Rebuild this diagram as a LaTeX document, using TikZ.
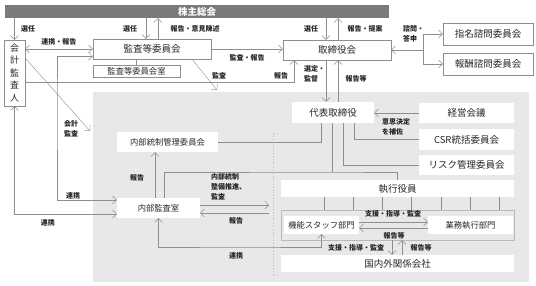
\documentclass[tikz,border=0pt]{standalone}
\usepackage{fontspec}
\newfontfamily\jp{Noto Sans CJK JP}
\usetikzlibrary{arrows.meta,positioning}
\definecolor{wire}{HTML}{8E8E8E}
\definecolor{barfill}{HTML}{7A7A7A}
\definecolor{panelfill}{HTML}{E8E8EA}

\begin{document}
\begin{tikzpicture}[
    x=1pt, y=-1pt,
    every node/.style={font=\jp, text=black!85, inner sep=0pt},
    unit/.style={draw=wire, fill=white, minimum height=20pt, font=\jp\fontsize{9.5}{11}\selectfont},
    plain/.style={fill=white, minimum height=20pt, font=\jp\fontsize{9.5}{11}\selectfont},
    small/.style={plain, font=\jp\fontsize{8.3}{10}\selectfont},
    lbl/.style={font=\jp\bfseries\fontsize{7}{10}\selectfont, align=center},
    flow/.style={draw=wire, -{Straight Barb[length=4pt, width=8pt]}},
    both/.style={draw=wire, {Straight Barb[length=4pt, width=8pt]}-{Straight Barb[length=4pt, width=8pt]}},
    link/.style={draw=wire}
]
\useasboundingbox (0,0) rectangle (536,285);
\fill[panelfill] (93,92) rectangle (529,282);
\draw[gray!50, dotted, thick] (278,133) -| (273,275) -- (278,275);

\node[fill=barfill, minimum width=384pt, minimum height=13pt, text=white, font=\jp\bfseries\fontsize{9.5}{11}\selectfont] (meeting) at (197,11.5) {株主総会};
\node[unit, minimum width=21pt, minimum height=66pt, align=center, font=\jp\fontsize{9}{12.5}\selectfont] (auditor) at (14.5,73) {会\\計\\監\\査\\人};
\node[unit, minimum width=118pt] (committee) at (152,49) {監査等委員会};
\node[unit, minimum width=87pt, minimum height=12pt, font=\jp\fontsize{8.3}{10}\selectfont] (office) at (136.5,71) {監査等委員会室};
\node[unit, minimum width=108pt] (board) at (337,50) {取締役会};
\node[unit, minimum width=90pt, minimum height=22pt] (nomination) at (488,34) {指名諮問委員会};
\node[unit, minimum width=90pt, minimum height=22pt] (remuneration) at (488,64) {報酬諮問委員会};

\node[plain, minimum width=82pt, minimum height=21pt] (ceo) at (333,112.5) {代表取締役};
\node[plain, minimum width=95pt] (mgmt) at (466.5,113) {経営会議};
\node[plain, minimum width=95pt, minimum height=21pt] (csr) at (466.5,139.5) {CSR統括委員会};
\node[plain, minimum width=95pt] (risk) at (466.5,165) {リスク管理委員会};
\node[small, minimum width=101pt] (icc) at (167.5,142) {内部統制管理委員会};
\node[small, minimum width=83pt] (audit) at (158.5,208) {内部監査室};
\node[plain, minimum width=233pt, minimum height=17pt] (officers) at (397.5,188.5) {執行役員};
\node[draw=gray!55, minimum width=233pt, minimum height=30pt] (depts) at (397.5,225) {};
\node[small, minimum width=75pt, minimum height=18pt] (staff) at (321.5,225) {機能スタッフ部門};
\node[small, minimum width=85pt, minimum height=18pt] (business) at (470.5,225) {業務執行部門};
\node[plain, minimum width=233pt, minimum height=17pt] (affiliates) at (397.5,263.5) {国内外関係会社};

\coordinate (acct) at (90,131);
\coordinate (audend) at (217,90);
\coordinate (hub) at (423,50);
\coordinate (split) at (332,172);
\coordinate (exec) at (269,209);
\coordinate (tie) at (240,247);
\coordinate (via) at (57,100);

\draw[flow] (auditor.north |- meeting.south) -- (auditor.north);
\draw[flow] ([xshift=-6pt]committee.north |- meeting.south) -- ([xshift=-6pt]committee.north);
\draw[flow] ([xshift=6pt]committee.north) -- ([xshift=6pt]committee.north |- meeting.south);
\draw[flow] ([xshift=-11pt]board.north |- meeting.south) -- ([xshift=-11pt]board.north);
\draw[flow] ([xshift=1pt]board.north) -- ([xshift=1pt]board.north |- meeting.south);
\draw[link] (committee.south -| office.north) -- (office.north);
\draw[both] (auditor.east |- committee.west) -- (committee.west);
\draw[flow] (committee.east) -- (committee.east -| board.west);
\draw[flow] ([xshift=40pt]committee.south) -- (audend);
\draw[flow] ([yshift=15pt]auditor.east) -- (acct);
\draw[flow] ([yshift=-9pt]auditor.east) -| ([xshift=-43pt]board.south);
\draw[both] ([yshift=3pt]committee.south west) -| (via) |- ([yshift=8pt]audit.west);
\draw[both] (auditor.south) |- ([yshift=-6pt]audit.west);
\draw[flow] (hub) -- (hub -| board.east);
\draw[flow] (hub |- nomination.west) -- (nomination.west);
\draw[flow] (hub |- nomination.west) |- (remuneration.west);
\draw[flow] ([xshift=-11pt]board.south) -- ([xshift=-7pt]ceo.north);
\draw[flow] ([xshift=5pt]ceo.north) -- ([xshift=1pt]board.south);
\draw[flow] (mgmt.west) -- (mgmt.west -| ceo.east);
\draw[link] ([xshift=21pt]ceo.south) |- (csr.west);
\draw[link] ([xshift=10pt]ceo.south) |- (risk.west);
\draw[link] ([xshift=-12pt]ceo.south) |- (icc.east);
\draw[link] (ceo.south -| split) -- (split);
\draw[link] ([xshift=5.5pt]audit.north) |- (split) -| (officers.north);
\draw[flow] ([xshift=-3.5pt]audit.north) -- ([xshift=-3.5pt]audit.north |- icc.south);
\draw[flow] ([yshift=3pt]audit.east) -- ([yshift=3pt]audit.east -| exec);
\draw[flow] ([yshift=-5pt]audit.east -| exec) -- ([yshift=-5pt]audit.east);
\draw[both] (audit.south) |- (tie) -| (staff.south);
\foreach \dx in {-73.5,-44.3,-15.1,14.1,43.3,72.5,101.7}
    \draw[link] ([xshift=\dx pt]officers.south) -- ([xshift=\dx pt]officers.south |- depts.north);
\draw[flow] ([yshift=3pt]staff.east) -- ([yshift=3pt]staff.east -| business.west);
\draw[flow] ([yshift=-3pt]business.west) -- ([yshift=-3pt]business.west -| staff.east);
\draw[flow] ([xshift=-5.5pt]depts.south) -- ([xshift=-5.5pt]affiliates.north);
\draw[flow] ([xshift=4.5pt]affiliates.north) -- ([xshift=4.5pt]depts.south);

\node[lbl] (elect1) at (28,29) {選任};
\node[lbl] (elect2) at (130,29) {選任};
\node[lbl] (opinion) at (195,29) {報告・意見陳述};
\node[lbl] (tie1) at (59,42) {連携・報告};
\node[lbl] (audrep) at (247,58) {監査・報告};
\node[lbl] (aud) at (219,76) {監査};
\node[lbl] (acctaud) at (71,129) {会計\\監査};
\node[lbl] (tie2) at (73,196) {連携};
\node[lbl] (tie3) at (48,223) {連携};
\node[lbl] (elect3) at (311,29) {選任};
\node[lbl] (propose) at (365,29) {報告・提案};
\node[lbl, anchor=west, align=left] (consult) at (403,34) {諮問・\\答申};
\node[lbl] (rep1) at (281,76) {報告};
\node[lbl, anchor=west, align=left] (select) at (304,74) {選定・\\監督};
\node[lbl] (rep2) at (356,79) {報告等};
\node[lbl, anchor=west, align=left] (assist) at (382,127) {意思決定\\を補佐};
\node[lbl] (rep3) at (137,178) {報告};
\node[lbl, anchor=north west, align=left] (promote) at (211,173.5) {内部統制\\整備推進、\\監査};
\node[lbl] (rep4) at (236,221) {報告};
\node[lbl] (tie4) at (236,256) {連携};
\node[lbl] (support1) at (393,214) {支援・指導・監査};
\node[lbl] (rep5) at (394,236) {報告等};
\node[lbl] (support2) at (356,248) {支援・指導・監査};
\node[lbl] (rep6) at (421,248) {報告等};
\end{tikzpicture}
\end{document}
